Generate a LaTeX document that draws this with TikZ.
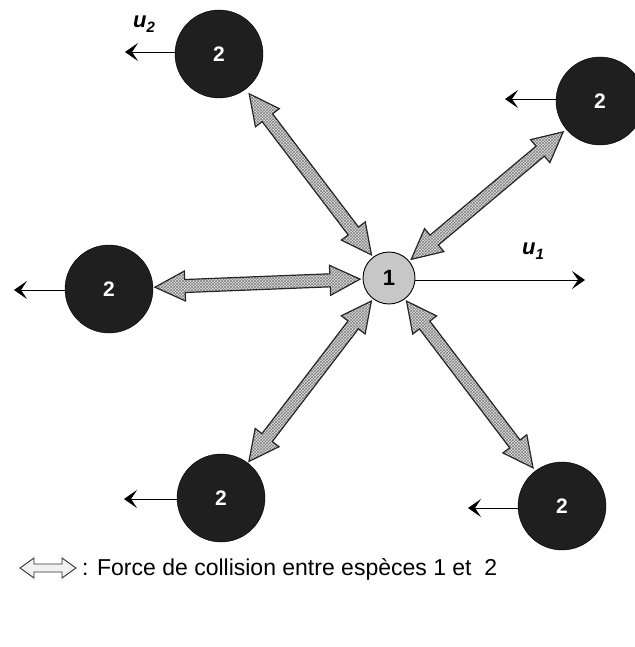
\documentclass[tikz,border=0pt]{standalone}
\usepackage{fontspec}
\setmainfont{Liberation Sans}
\usetikzlibrary{calc,patterns,arrows.meta}
\tikzset{
  dark/.style={circle, fill=black!88, draw=black, minimum size=88pt, inner sep=0pt,
    text=white, font=\bfseries\fontsize{21}{21}\selectfont},
  light/.style={circle, fill=black!22, draw=black, line width=0.9pt, minimum size=52pt,
    inner sep=0pt, font=\bfseries\fontsize{22}{22}\selectfont},
  vel/.style={-{Stealth[length=13pt,width=18pt,inset=6pt]}, line width=0.9pt},
  fat/.style={draw=black!85, line width=1.2pt, line join=miter,
    preaction={fill=black!12}, pattern=crosshatch, pattern color=black!50},
  legarrow/.style={draw=black!80, line width=0.9pt, fill=black!6},
  ulabel/.style={font=\bfseries\itshape\fontsize{22}{22}\selectfont, inner sep=0pt},
  legtext/.style={font=\fontsize{23}{23}\selectfont, anchor=west, inner sep=0pt},
}
% fat double arrow between two circle nodes: #1 node, #2 gap from its centre, #3 node, #4 gap
\newcommand\fatarr[4]{%
  \path[fat] let \p1=(#1), \p2=(#3), \n1={atan2(\y2-\y1,\x2-\x1)},
    \p3=($(\p1)+(\n1:#2)$), \p4=($(\p2)+(\n1:-#4)$) in
    (\p3) -- ($(\p3)+(\n1:30pt)+(\n1+90:15pt)$) -- ($(\p3)+(\n1:30pt)+(\n1+90:6.5pt)$)
    -- ($(\p4)+(\n1:-30pt)+(\n1+90:6.5pt)$) -- ($(\p4)+(\n1:-30pt)+(\n1+90:15pt)$)
    -- (\p4) -- ($(\p4)+(\n1:-30pt)+(\n1-90:15pt)$) -- ($(\p4)+(\n1:-30pt)+(\n1-90:6.5pt)$)
    -- ($(\p3)+(\n1:30pt)+(\n1-90:6.5pt)$) -- ($(\p3)+(\n1:30pt)+(\n1-90:15pt)$) -- cycle;}
\begin{document}
\begin{tikzpicture}[x=1pt,y=-1pt]
\useasboundingbox (0,0) rectangle (634,647);
% particles
\node[light] (c) at (389,278) {1};
\node[dark] (tl) at (219,54) {2};
\node[dark] (tr) at (600,101) {2};
\node[dark] (l)  at (109,289) {2};
\node[dark] (bl) at (221,498) {2};
\node[dark] (br) at (562,506) {2};
% velocity arrows
\coordinate (e1) at (585,280);
\coordinate (etl) at (125,52);
\coordinate (etr) at (505,99);
\coordinate (el) at (14,290);
\coordinate (ebl) at (124,499);
\coordinate (ebr) at (468,508);
\draw[vel] (c.east |- e1) -- (e1);
\draw[vel] (tl.west |- etl) -- (etl);
\draw[vel] (tr.west |- etr) -- (etr);
\draw[vel] (l.west |- el) -- (el);
\draw[vel] (bl.west |- ebl) -- (ebl);
\draw[vel] (br.west |- ebr) -- (ebr);
% labels
\node[ulabel] (u2) at (144,24) {u\raisebox{-0.45ex}{\fontsize{15}{15}\selectfont 2}};
\node[ulabel] (u1) at (533,251) {u\raisebox{-0.45ex}{\fontsize{15}{15}\selectfont 1}};
% collision forces
\fatarr{tl}{50pt}{c}{29pt}
\fatarr{tr}{48pt}{c}{29pt}
\fatarr{l}{46pt}{c}{29pt}
\fatarr{bl}{46pt}{c}{29pt}
\fatarr{br}{48pt}{c}{29pt}
% legend
\coordinate (la) at (20,568);
\coordinate (lb) at (76,568);
\path[legarrow] (la) -- ($(la)+(14,-10)$) -- ($(la)+(14,-4)$) -- ($(lb)+(-14,-4)$)
  -- ($(lb)+(-14,-10)$) -- (lb) -- ($(lb)+(-14,10)$) -- ($(lb)+(-14,4)$)
  -- ($(la)+(14,4)$) -- ($(la)+(14,10)$) -- cycle;
\node[legtext] (lt) at (82,569) {: Force de collision entre espèces 1 et\ \ 2};
\end{tikzpicture}
\end{document}
